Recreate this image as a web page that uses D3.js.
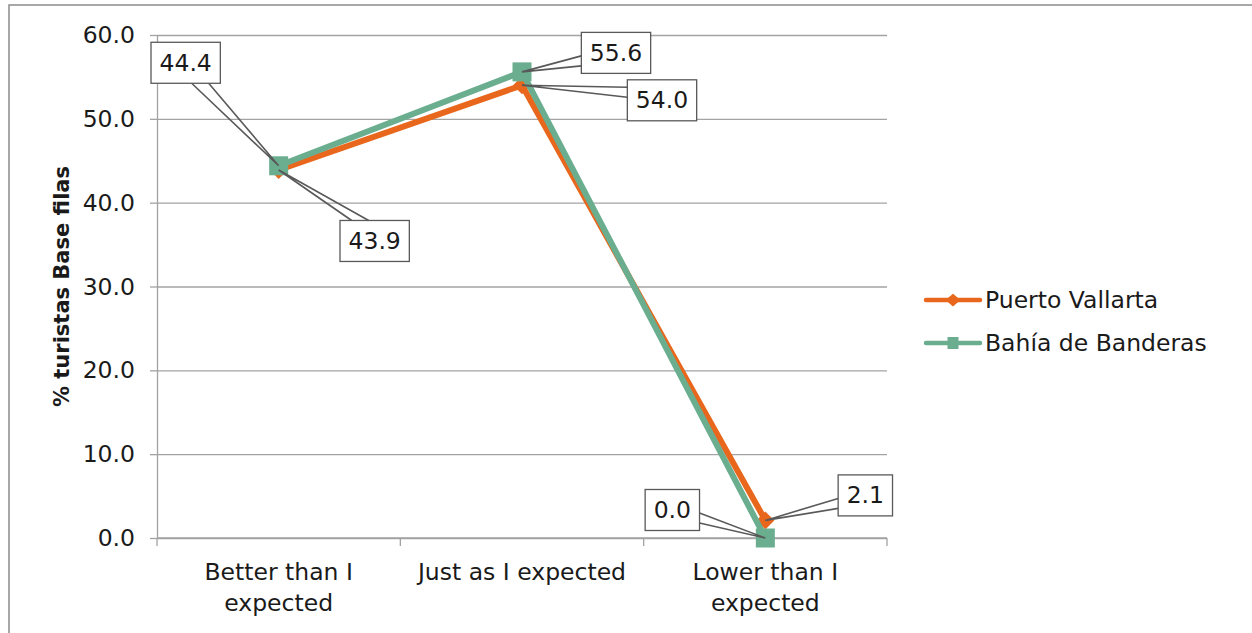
<!DOCTYPE html>
<html>
<head>
<meta charset="utf-8">
<script src="https://cdn.jsdelivr.net/npm/d3@7"></script>
<style>
	body { margin: 0; background: #fff; }
	svg { display: block; font-family: "DejaVu Sans", sans-serif; }
</style>
</head>
<body>
<svg id="chart" width="1252" height="633"></svg>
<script>
// data
const categories = ["Better than I expected", "Just as I expected", "Lower than I expected"];
const categoryLines = [["Better than I", "expected"], ["Just as I expected"], ["Lower than I", "expected"]];
const seriesNames = ["Puerto Vallarta", "Bahía de Banderas"];
const puertoVallarta = [43.9, 54.0, 2.1];
const bahiaBanderas = [44.4, 55.6, 0.0];
const yTicks = [0, 10, 20, 30, 40, 50, 60];

// where the data label boxes sit, relative to their point (px)
const labelOffsets = [
	[[96, 71], [140, 15], [100, -25]],
	[[-93, -103], [94, -19], [-93, -28]]
];

const colors = ["#E8671C", "#6AAE8F"];
const gridColor = "#a3a3a3";
const textColor = "#1a1a1a";
const fontSize = 23.5;

const svg = d3.select("#chart");

// outer chart border (cut by the picture on the right and bottom)
svg.append("rect")
	.attr("x", 9).attr("y", 5)
	.attr("width", 1400).attr("height", 800)
	.attr("fill", "none")
	.attr("stroke", "#8c8c8c")
	.attr("stroke-width", 1.5);

const margin = {left: 157, right: 887, top: 35, bottom: 538};

const x = d3.scaleBand()
	.domain(categories)
	.range([margin.left, margin.right]);

const y = d3.scaleLinear()
	.domain([0, 60])
	.range([margin.bottom, margin.top]);

// gridlines
svg.append("g")
	.attr("transform", "translate(" + margin.left + ",0)")
	.call(d3.axisLeft(y).tickValues(yTicks).tickSize(-(margin.right - margin.left)).tickFormat(""))
	.call(g => g.select(".domain").remove())
	.call(g => g.selectAll(".tick line").attr("stroke", gridColor).attr("stroke-width", 1.3));

// y axis
svg.append("g")
	.attr("transform", "translate(" + margin.left + ",0)")
	.call(d3.axisLeft(y).tickValues(yTicks).tickSize(7).tickPadding(15).tickFormat(d3.format(".1f")))
	.call(g => g.select(".domain").attr("stroke", gridColor).attr("stroke-width", 1.3).attr("d", "M0.5," + margin.bottom + "V" + margin.top))
	.call(g => g.selectAll(".tick line").attr("stroke", gridColor).attr("stroke-width", 1.3))
	.call(g => g.selectAll(".tick text")
		.attr("fill", textColor)
		.style("font-size", fontSize + "px")
		.style("font-family", "DejaVu Sans"));

// x axis line and boundary ticks
const xAxis = svg.append("g");
xAxis.append("line")
	.attr("x1", margin.left).attr("x2", margin.right)
	.attr("y1", y(0)).attr("y2", y(0))
	.attr("stroke", gridColor).attr("stroke-width", 1.3);
const bounds = categories.map(c => x(c)).concat([x.range()[1]]);
xAxis.selectAll(".xtick")
	.data(bounds).enter().append("line")
	.attr("class", "xtick")
	.attr("x1", d => d).attr("x2", d => d)
	.attr("y1", y(0)).attr("y2", y(0) + 8)
	.attr("stroke", gridColor).attr("stroke-width", 1.3);

const catText = xAxis.selectAll(".cat")
	.data(categories).enter().append("text")
	.attr("class", "cat")
	.attr("text-anchor", "middle")
	.attr("fill", textColor)
	.style("font-size", fontSize + "px");
catText.each(function (d, i) {
	const t = d3.select(this);
	categoryLines[i].forEach((line, j) => {
		t.append("tspan")
			.attr("x", x(d) + x.bandwidth() / 2)
			.attr("y", 580 + j * 31)
			.text(line);
	});
});

// y title
svg.append("text")
	.attr("transform", "translate(69," + ((margin.top + margin.bottom) / 2) + ") rotate(-90)")
	.attr("text-anchor", "middle")
	.attr("fill", textColor)
	.style("font-size", "21px")
	.style("font-weight", "bold")
	.text("% turistas Base filas");

// series
const series = [puertoVallarta, bahiaBanderas];
const cx = i => x(categories[i]) + x.bandwidth() / 2;

const line = d3.line()
	.x((d, i) => cx(i))
	.y(d => y(d));

const diamond = (s) => "M0," + (-s) + "L" + s + ",0L0," + s + "L" + (-s) + ",0Z";

series.forEach((values, si) => {
	const g = svg.append("g").attr("class", "series");
	g.append("path")
		.datum(values)
		.attr("d", line)
		.attr("fill", "none")
		.attr("stroke", colors[si])
		.attr("stroke-width", 6)
		.attr("stroke-linejoin", "round");
	if (si === 0) {
		g.selectAll(".mk").data(values).enter().append("path")
			.attr("class", "mk")
			.attr("transform", (d, i) => "translate(" + cx(i) + "," + y(d) + ")")
			.attr("d", diamond(9))
			.attr("fill", colors[si]);
	} else {
		g.selectAll(".mk").data(values).enter().append("rect")
			.attr("class", "mk")
			.attr("x", (d, i) => cx(i) - 9.5)
			.attr("y", d => y(d) - 9.5)
			.attr("width", 19).attr("height", 19)
			.attr("fill", colors[si]);
	}
});

// data labels with wedge leader lines
const labels = svg.append("g").attr("class", "labels");
const boxH = 41;
series.forEach((values, si) => {
	values.forEach((v, i) => {
		const px = cx(i), py = y(v);
		const bx = px + labelOffsets[si][i][0];
		const by = py + labelOffsets[si][i][1];

		const txt = labels.append("text")
			.attr("x", bx).attr("y", by + 8)
			.attr("text-anchor", "middle")
			.attr("fill", textColor)
			.style("font-size", fontSize + "px")
			.text(d3.format(".1f")(v));
		const tw = txt.node().getComputedTextLength();
		const bw = tw + 17;

		const dx = px - bx, dy = py - by;
		let a, b;
		if (Math.abs(dy) / (boxH / 2) > Math.abs(dx) / (bw / 2)) {
			// top or bottom edge
			const ey = by + Math.sign(dy) * boxH / 2;
			const s = Math.sign(dx);
			a = [bx + s * 6, ey];
			b = [bx + s * 23, ey];
		} else {
			const ex = bx + Math.sign(dx) * bw / 2;
			const s = Math.sign(dy);
			a = [ex, by + s * 3];
			b = [ex, by + s * 13];
		}
		labels.insert("path", "text")
			.attr("d", "M" + a + "L" + px + "," + py + "L" + b)
			.attr("fill", "none")
			.attr("stroke", "#595959")
			.attr("stroke-width", 1.6);
		labels.insert("rect", "text")
			.attr("x", bx - bw / 2).attr("y", by - boxH / 2)
			.attr("width", bw).attr("height", boxH)
			.attr("fill", "#fff")
			.attr("stroke", "#595959")
			.attr("stroke-width", 1.3);
	});
});

// legend
const legend = svg.append("g").attr("class", "legend");
const legendY = [300, 343];
seriesNames.forEach((name, si) => {
	const ly = legendY[si];
	legend.append("line")
		.attr("x1", 926).attr("x2", 980)
		.attr("y1", ly).attr("y2", ly)
		.attr("stroke", colors[si])
		.attr("stroke-width", 4.5)
		.attr("stroke-linecap", "round");
	if (si === 0) {
		legend.append("path")
			.attr("transform", "translate(953," + ly + ") scale(1,0.85)")
			.attr("d", diamond(7.5))
			.attr("fill", colors[si]);
	} else {
		legend.append("rect")
			.attr("x", 947.5).attr("y", ly - 6)
			.attr("width", 11).attr("height", 12)
			.attr("fill", colors[si]);
	}
	legend.append("text")
		.attr("x", 985).attr("y", ly + 7.5)
		.attr("fill", textColor)
		.style("font-size", fontSize + "px")
		.text(name);
});
</script>
</body>
</html>
